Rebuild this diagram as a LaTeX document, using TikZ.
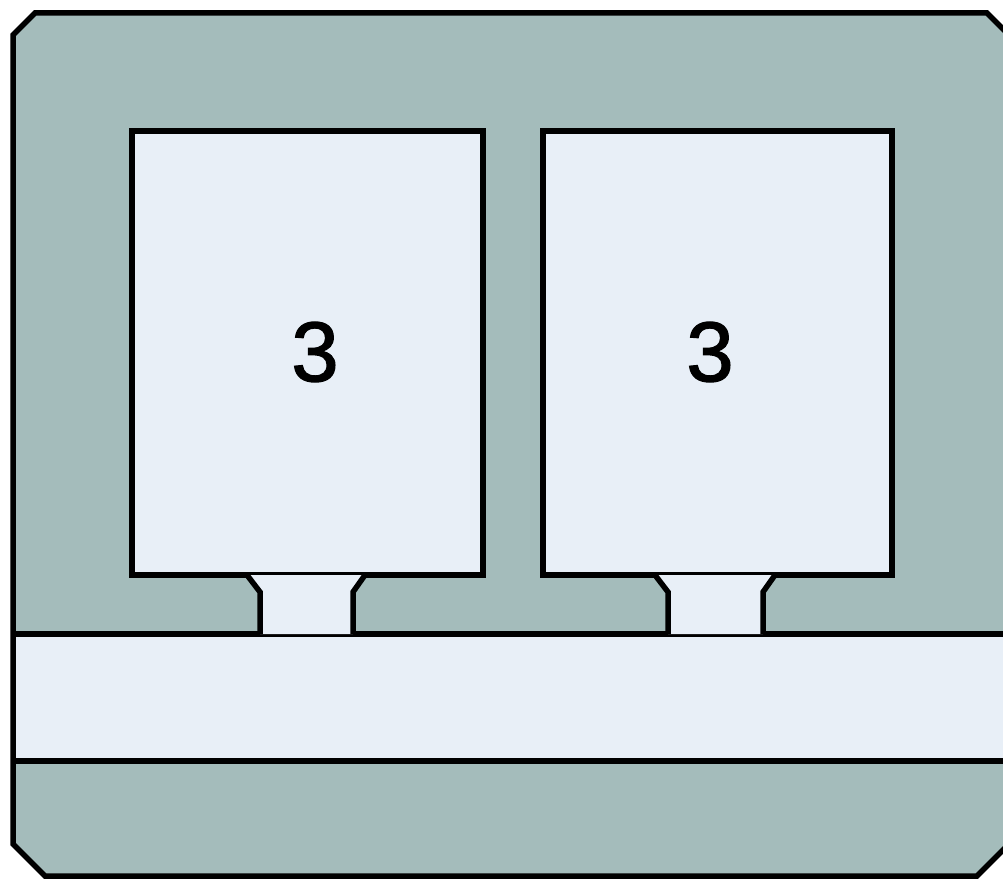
\documentclass[tikz,border=0pt]{standalone}
\usepackage{fontspec}
\setmainfont{Liberation Sans}
\definecolor{housing}{HTML}{A4BCBB}
\definecolor{panel}{HTML}{E8EFF7}
\tikzset{
  edge/.style={draw=black, line width=5.5pt, line join=miter},
  digit/.style={font=\fontsize{85}{85}\selectfont, text=black, inner sep=0pt}
}
\begin{document}
\begin{tikzpicture}[x=1pt,y=-1pt]
\useasboundingbox (0,0) rectangle (1003,880);
\clip (0,0) rectangle (1003,880);
% outer housing
\path[edge, fill=housing] (13,35) -- (35,13) -- (987,13) -- (1009,35) -- (1009,844) -- (977,876) -- (45,876) -- (13,844) -- cycle;
% boxes
\path[edge, fill=panel] (132,131) rectangle (483,575);
\path[edge, fill=panel] (543,131) rectangle (892,575);
% bar
\path[fill=panel] (15.8,634) rectangle (1006,761);
\draw[edge] (13,634) -- (1009,634);
\draw[edge] (13,761) -- (1009,761);
% connectors
\path[fill=panel] (247,575) -- (365,575) -- (353,592) -- (353,634) -- (260,634) -- (260,592) -- cycle;
\draw[edge] (247,575) -- (260,592) -- (260,634);
\draw[edge] (365,575) -- (353,592) -- (353,634);
\path[fill=panel] (655,575) -- (775,575) -- (763,592) -- (763,634) -- (668,634) -- (668,592) -- cycle;
\draw[edge] (655,575) -- (668,592) -- (668,634);
\draw[edge] (775,575) -- (763,592) -- (763,634);
% labels
\node[digit, draw=none] (a) at (315,352) {\addfontfeatures{FakeBold=1.5}3};
\node[digit, draw=none] (b) at (710,352) {\addfontfeatures{FakeBold=1.5}3};
\end{tikzpicture}
\end{document}
